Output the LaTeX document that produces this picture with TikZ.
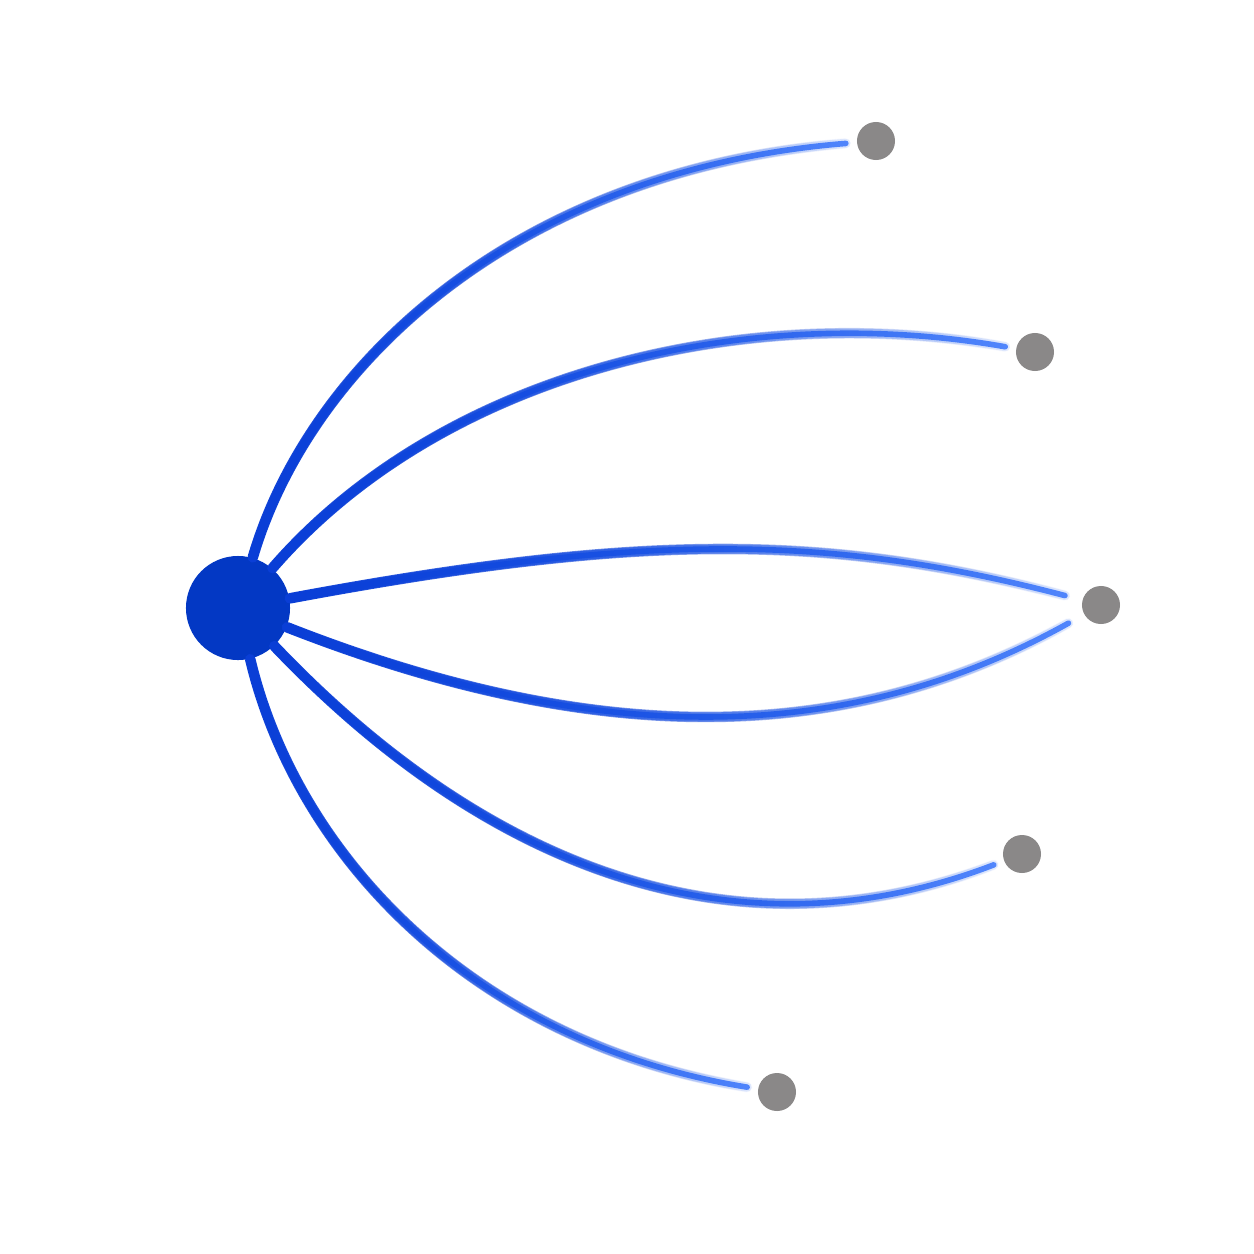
\documentclass[tikz,border=0pt]{standalone}
\usetikzlibrary{fadings}

\definecolor{hubblue}{HTML}{0338C4}
\definecolor{leafgray}{HTML}{8A8888}
\definecolor{spokedark}{HTML}{0A3ED6}
\definecolor{spokemid}{HTML}{1A5EF4}
\definecolor{spokelight}{HTML}{5B8EFF}

\tikzfading[name=fadedark, left color=transparent!0, middle color=transparent!85, right color=transparent!100]
\tikzfading[name=fademid, left color=transparent!0, middle color=transparent!10, right color=transparent!90]

\tikzset{
  hub/.style={circle, fill=hubblue, minimum size=1.04cm, inner sep=0pt},
  leaf/.style={circle, fill=leafgray, minimum size=0.38cm, inner sep=0pt},
  spoke/.style={draw=spokelight, line width=1.6pt, line cap=round,
    postaction={draw=spokemid, line width=2.6pt, path fading=fademid},
    postaction={draw=spokedark, line width=3pt, path fading=fadedark}},
}

\begin{document}
\begin{tikzpicture}[x=0.01cm, y=-0.01cm]
  \useasboundingbox (0,0) rectangle (1254,1254);

  \node[hub]  (h)  at (238,608)  {};
  \node[leaf] (d1) at (876,141)  {};
  \node[leaf] (d2) at (1035,352) {};
  \node[leaf] (d3) at (1101,605) {};
  \node[leaf] (d4) at (1022,854) {};
  \node[leaf] (d5) at (777,1092) {};

  % spokes, top to bottom
  \draw[spoke, shorten >=3pt] (h) .. controls (309,366) and (515,170) .. (d1);
  \draw[spoke, shorten >=3pt] (h) .. controls (440,375) and (740,300) .. (d2);
  \draw[spoke, shorten >=5pt] (h) .. controls (640,533) and (826,533) .. (d3);
  \draw[spoke, shorten >=5pt] (h) .. controls (600,750) and (850,745) .. (d3);
  \draw[spoke, shorten >=3pt] (h) .. controls (480,862) and (730,966) .. (d4);
  \draw[spoke, shorten >=3pt] (h) .. controls (296,852) and (469,1042) .. (d5);
\end{tikzpicture}
\end{document}
